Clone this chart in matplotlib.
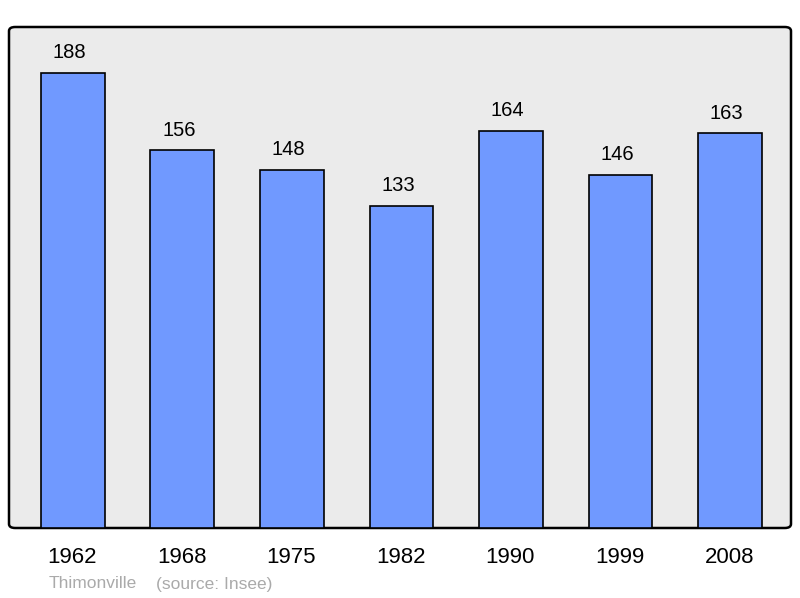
import matplotlib.pyplot as plt
from matplotlib.patches import FancyBboxPatch

years = ["1962", "1968", "1975", "1982", "1990", "1999", "2008"]
population = [188, 156, 148, 133, 164, 146, 163]

plt.rcParams["font.family"] = ["Liberation Sans", "DejaVu Sans"]

fig = plt.figure(figsize=(8, 5.98), dpi=100)
ax = fig.add_axes([9 / 800, 70 / 598, 782 / 800, 501 / 598])
ax.set_xlim(-0.584, 6.557)
ax.set_ylim(0, 207)
ax.axis("off")

# rounded grey panel
panel = FancyBboxPatch((0, 0), 1, 1, boxstyle="round,pad=0,rounding_size=0.008",
                       transform=ax.transAxes, facecolor="#ebebeb",
                       edgecolor="black", linewidth=1.8, zorder=0, clip_on=False)
ax.add_patch(panel)

x = range(len(years))
ax.bar(x, population, width=0.584, color="#7099ff", edgecolor="black",
       linewidth=1.2, zorder=2)

for i, v in zip(x, population):
    ax.annotate(str(v), (i, v), xytext=(-2.5, 14.5), textcoords="offset points",
                ha="center", va="center", fontsize=14.5)

for i, y in zip(x, years):
    ax.annotate(y, (i, 0), xytext=(-0.5, -21.5), textcoords="offset points",
                ha="center", va="center", fontsize=16)

fig.text(49 / 800, 1 - 584 / 598, "Thimonville", color="#aaaaaa",
         fontsize=12.5, va="center", ha="left")
fig.text(156 / 800, 1 - 584 / 598, "(source: Insee)", color="#aaaaaa",
         fontsize=12.5, va="center", ha="left")

fig.savefig("out.png", dpi=100)
